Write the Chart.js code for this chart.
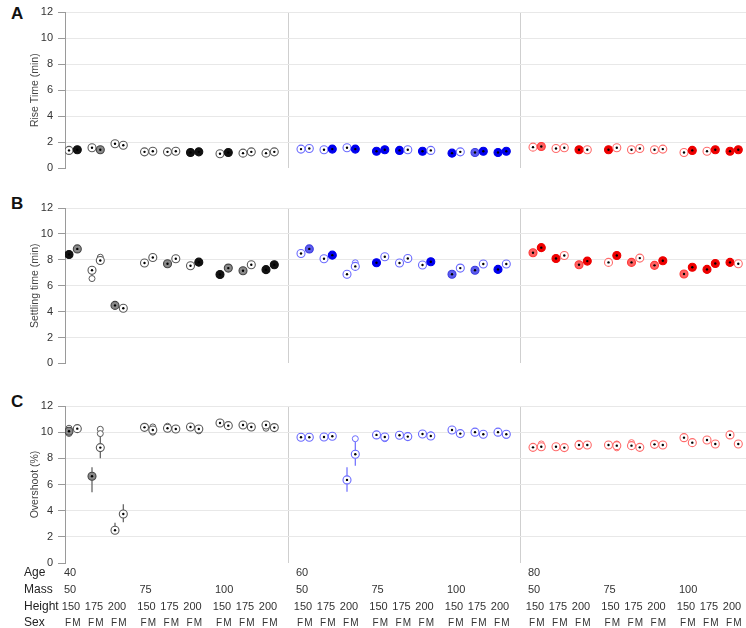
<!DOCTYPE html>
<html>
<head>
<meta charset="utf-8">
<script src="https://cdn.jsdelivr.net/npm/chart.js@4"></script>
<style>
  body { margin: 0; background: #fff; width: 746px; height: 628px; position: relative; overflow: hidden; font-family: "Liberation Sans", Arial, sans-serif; }
  canvas { position: absolute; left: 0; }
  .letter { position: absolute; left: 11px; font-weight: bold; font-size: 17px; color: #111; }
</style>
</head>
<body>
<div class="letter" style="top:4px">A</div>
<div class="letter" style="top:194px">B</div>
<div class="letter" style="top:392px">C</div>
<canvas id="riseChart" width="746" height="180" style="top:0"></canvas>
<canvas id="settleChart" width="746" height="185" style="top:190px"></canvas>
<canvas id="overChart" width="746" height="238" style="top:390px"></canvas>
<script>
//----------------------
// Data (order: age > mass > height > sex)
//----------------------

const ages = ['40', '60', '80'];
const masses = ['50', '75', '100'];
const heights = ['150', '175', '200'];
const sexes = ['F', 'M'];

const riseTime = [
  1.38, 1.43, 1.58, 1.43, 1.89, 1.78, 1.27, 1.32, 1.27, 1.32, 1.22, 1.27, 1.12, 1.22, 1.17, 1.27, 1.17, 1.27,
  1.48, 1.53, 1.43, 1.48, 1.58, 1.48, 1.32, 1.43, 1.38, 1.43, 1.32, 1.38, 1.17, 1.27, 1.22, 1.32, 1.22, 1.32,
  1.63, 1.68, 1.53, 1.58, 1.43, 1.43, 1.43, 1.58, 1.43, 1.53, 1.43, 1.48, 1.22, 1.38, 1.32, 1.43, 1.32, 1.43
];
// 0 open, 1 solid, 2 shaded
const riseMark = [
  0, 1, 0, 2, 0, 0, 0, 0, 0, 0, 1, 1, 0, 1, 0, 0, 0, 0,
  0, 0, 0, 1, 0, 1, 1, 1, 1, 0, 1, 0, 1, 0, 2, 1, 1, 1,
  0, 2, 0, 0, 1, 0, 1, 0, 0, 0, 0, 0, 0, 1, 0, 1, 1, 1
];

const settlingTime = [
  8.41, 8.84, 7.19, 7.95, 4.48, 4.26, 7.75, 8.18, 7.69, 8.08, 7.54, 7.82, 6.86, 7.36, 7.16, 7.62, 7.24, 7.62,
  8.49, 8.84, 8.08, 8.36, 6.88, 7.49, 7.77, 8.23, 7.75, 8.10, 7.60, 7.85, 6.88, 7.36, 7.19, 7.67, 7.26, 7.67,
  8.54, 8.94, 8.10, 8.33, 7.62, 7.90, 7.80, 8.33, 7.80, 8.13, 7.57, 7.93, 6.90, 7.42, 7.26, 7.72, 7.80, 7.70
];
const settleMark = [
  1, 2, 0, 0, 2, 0, 0, 0, 2, 0, 0, 1, 1, 2, 2, 0, 1, 1,
  0, 2, 0, 1, 0, 0, 1, 0, 0, 0, 0, 1, 2, 0, 2, 0, 1, 0,
  2, 1, 1, 0, 2, 1, 0, 1, 2, 0, 2, 1, 2, 1, 1, 1, 1, 0
];
const settleExtraIdx = [2, 3, 23];
const settleExtraVal = [6.55, 8.2, 7.77];
const settleErrIdx = [2, 22];
const settleErrLow = [6.6, 6.55];
const settleErrHigh = [7.19, 6.88];

const overshoot = [
  10.07, 10.27, 6.63, 8.82, 2.50, 3.75, 10.37, 10.17, 10.30, 10.24, 10.40, 10.24, 10.70, 10.50, 10.55, 10.40, 10.55, 10.35,
  9.61, 9.61, 9.63, 9.69, 6.35, 8.31, 9.79, 9.63, 9.76, 9.66, 9.86, 9.71, 10.17, 9.89, 10.00, 9.84, 10.00, 9.84,
  8.84, 8.89, 8.89, 8.82, 9.02, 9.02, 9.02, 8.97, 8.97, 8.84, 9.07, 9.02, 9.58, 9.20, 9.40, 9.10, 9.79, 9.10
];
const overMark = [
  2, 0, 2, 0, 0, 0, 0, 0, 0, 0, 0, 0, 0, 0, 0, 0, 0, 0,
  0, 0, 0, 0, 0, 0, 0, 0, 0, 0, 0, 0, 0, 0, 0, 0, 0, 0,
  0, 0, 0, 0, 0, 0, 0, 0, 0, 0, 0, 0, 0, 0, 0, 0, 0, 0
];
const overExtraIdx = [0, 0, 3, 3, 7, 7, 8, 11, 16, 23, 25, 27, 29, 35, 37, 40, 40, 43, 43, 44, 46];
const overExtraVal = [9.9, 10.3, 10.22, 9.89, 10.0, 10.4, 10.45, 10.1, 10.3, 9.5, 9.5, 9.75, 9.8, 9.75, 9.1, 9.15, 8.9, 9.1, 8.8, 9.2, 9.1];
const overErrIdx = [2, 3, 4, 5, 22, 23];
const overErrLow = [5.41, 8.0, 2.3, 3.12, 5.45, 7.44];
const overErrHigh = [7.32, 9.84, 3.08, 4.49, 7.32, 9.5];

//----------------------
// Layout helpers
//----------------------

const AGE_STEP = 232, MASS_STEP = 75.5, HEIGHT_STEP = 23, SEX_STEP = 8.3;
function xOf(i) {
  const a = Math.floor(i / 18), m = Math.floor(i / 6) % 3, h = Math.floor(i / 2) % 3, s = i % 2;
  return a * AGE_STEP + m * MASS_STEP + h * HEIGHT_STEP + s * SEX_STEP;
}
const separators = [1, 2].map(a => a * AGE_STEP - 12.5);

const ringCol = ['#5a5a5a', '#6b6bff', '#ff6b6b'];
const solidCol = ['#111111', '#0000ee', '#ee0000'];
const shadeFill = ['#8a8a8a', '#5d5dee', '#ff6262'];
const shadeRing = ['#444444', '#3b3be0', '#ff3838'];
const FONT = '"Liberation Sans", Arial, sans-serif';

function ageOf(i) { return Math.floor(i / 18); }

// error bars, drawn under the markers
const errorBars = {
  id: 'errorBars',
  beforeDatasetsDraw(chart, args, opts) {
    if (!opts.idx) return;
    const {ctx, scales: {x, y}} = chart;
    ctx.save();
    ctx.lineWidth = 1.2;
    opts.idx.forEach((i, k) => {
      const px = x.getPixelForValue(xOf(i));
      ctx.strokeStyle = ringCol[ageOf(i)];
      ctx.beginPath();
      ctx.moveTo(px, y.getPixelForValue(opts.low[k]));
      ctx.lineTo(px, y.getPixelForValue(opts.high[k]));
      ctx.stroke();
    });
    ctx.restore();
  }
};

// category rows under the bottom panel
const categoryRows = {
  id: 'categoryRows',
  afterDraw(chart, args, opts) {
    if (!opts.show) return;
    const {ctx, scales: {x}} = chart;
    const rowY = [183, 200, 217, 233];
    ctx.save();
    ctx.fillStyle = '#222';
    ctx.textBaseline = 'middle';
    ctx.font = '12px ' + FONT;
    ctx.textAlign = 'left';
    ['Age', 'Mass', 'Height', 'Sex'].forEach((t, r) => ctx.fillText(t, 24, rowY[r]));
    ctx.fillStyle = '#333';
    for (let a = 0; a < 3; a++) {
      ctx.textAlign = 'left';
      ctx.font = '11px ' + FONT;
      ctx.fillText(ages[a], x.getPixelForValue(xOf(a * 18)) - 5, rowY[0]);
      for (let m = 0; m < 3; m++) {
        ctx.textAlign = 'left';
        ctx.font = '11px ' + FONT;
        ctx.fillText(masses[m], x.getPixelForValue(xOf(a * 18 + m * 6)) - 5, rowY[1]);
        for (let h = 0; h < 3; h++) {
          const i = a * 18 + m * 6 + h * 2;
          ctx.textAlign = 'center';
          ctx.font = '11px ' + FONT;
          ctx.fillText(heights[h], x.getPixelForValue(xOf(i)) + 2, rowY[2]);
          ctx.font = '10px ' + FONT;
          sexes.forEach((s, k) => ctx.fillText(s, x.getPixelForValue(xOf(i + k)) - 1, rowY[3]));
        }
      }
    }
    ctx.restore();
  }
};

function makePanel(id, values, marks, title, extraIdx, extraVal, err, padTop, padBottom, rows) {
  const pts = values.map((v, i) => ({x: xOf(i), y: v}));
  const fill = marks.map((k, i) => k === 1 ? solidCol[ageOf(i)] : k === 2 ? shadeFill[ageOf(i)] : '#fff');
  const ring = marks.map((k, i) => k === 1 ? solidCol[ageOf(i)] : k === 2 ? shadeRing[ageOf(i)] : ringCol[ageOf(i)]);
  const extras = extraIdx.map((i, k) => ({x: xOf(i), y: extraVal[k]}));
  const extraRing = extraIdx.map(i => ringCol[ageOf(i)]);
  return new Chart(document.getElementById(id), {
    type: 'scatter',
    data: {
      datasets: [
        { // centre dots
          data: pts, order: 0, pointRadius: 1.2, pointBorderWidth: 0,
          pointBackgroundColor: '#000'
        },
        { // markers
          data: pts, order: 1, pointRadius: 4, pointBorderWidth: 1.1,
          pointBackgroundColor: fill, pointBorderColor: ring
        },
        { // replicate rings
          data: extras, order: 2, pointRadius: 3, pointBorderWidth: 1,
          pointBackgroundColor: '#fff', pointBorderColor: extraRing
        }
      ]
    },
    options: {
      responsive: false,
      animation: false,
      events: [],
      layout: { autoPadding: false, padding: { top: padTop, bottom: padBottom, left: 0, right: 0 } },
      plugins: {
        legend: { display: false },
        tooltip: { enabled: false },
        errorBars: err,
        categoryRows: { show: rows }
      },
      scales: {
        x: {
          type: 'linear', min: -4, max: 677,
          afterBuildTicks: s => { s.ticks = separators.map(v => ({value: v})); },
          afterFit: s => { s.height = 0; },
          ticks: { display: false },
          border: { display: false },
          grid: { color: '#cfcfcf', lineWidth: 1, drawTicks: false }
        },
        y: {
          min: 0, max: 12,
          afterFit: s => { s.width = 65; },
          ticks: { stepSize: 2, color: '#333', padding: 5, font: { size: 11, family: FONT } },
          border: { color: '#9a9a9a', width: 1 },
          grid: {
            color: c => c.tick && c.tick.value === 0 ? 'rgba(0,0,0,0)' : '#e8e8e8',
            tickColor: '#9a9a9a', tickLength: 7
          },
          title: {
            display: true, text: title, color: '#444',
            font: { size: 10.5, family: FONT },
            padding: { top: 29, bottom: 0 }
          }
        }
      }
    },
    plugins: [errorBars, categoryRows]
  });
}

makePanel('riseChart', riseTime, riseMark, 'Rise Time (min)', [], [], {}, 12, 11, false);
makePanel('settleChart', settlingTime, settleMark, 'Settling time (min)', settleExtraIdx, settleExtraVal,
  {idx: settleErrIdx, low: settleErrLow, high: settleErrHigh}, 18, 10, false);
makePanel('overChart', overshoot, overMark, 'Overshoot (%)', overExtraIdx, overExtraVal,
  {idx: overErrIdx, low: overErrLow, high: overErrHigh}, 16, 65, true);
</script>
</body>
</html>
